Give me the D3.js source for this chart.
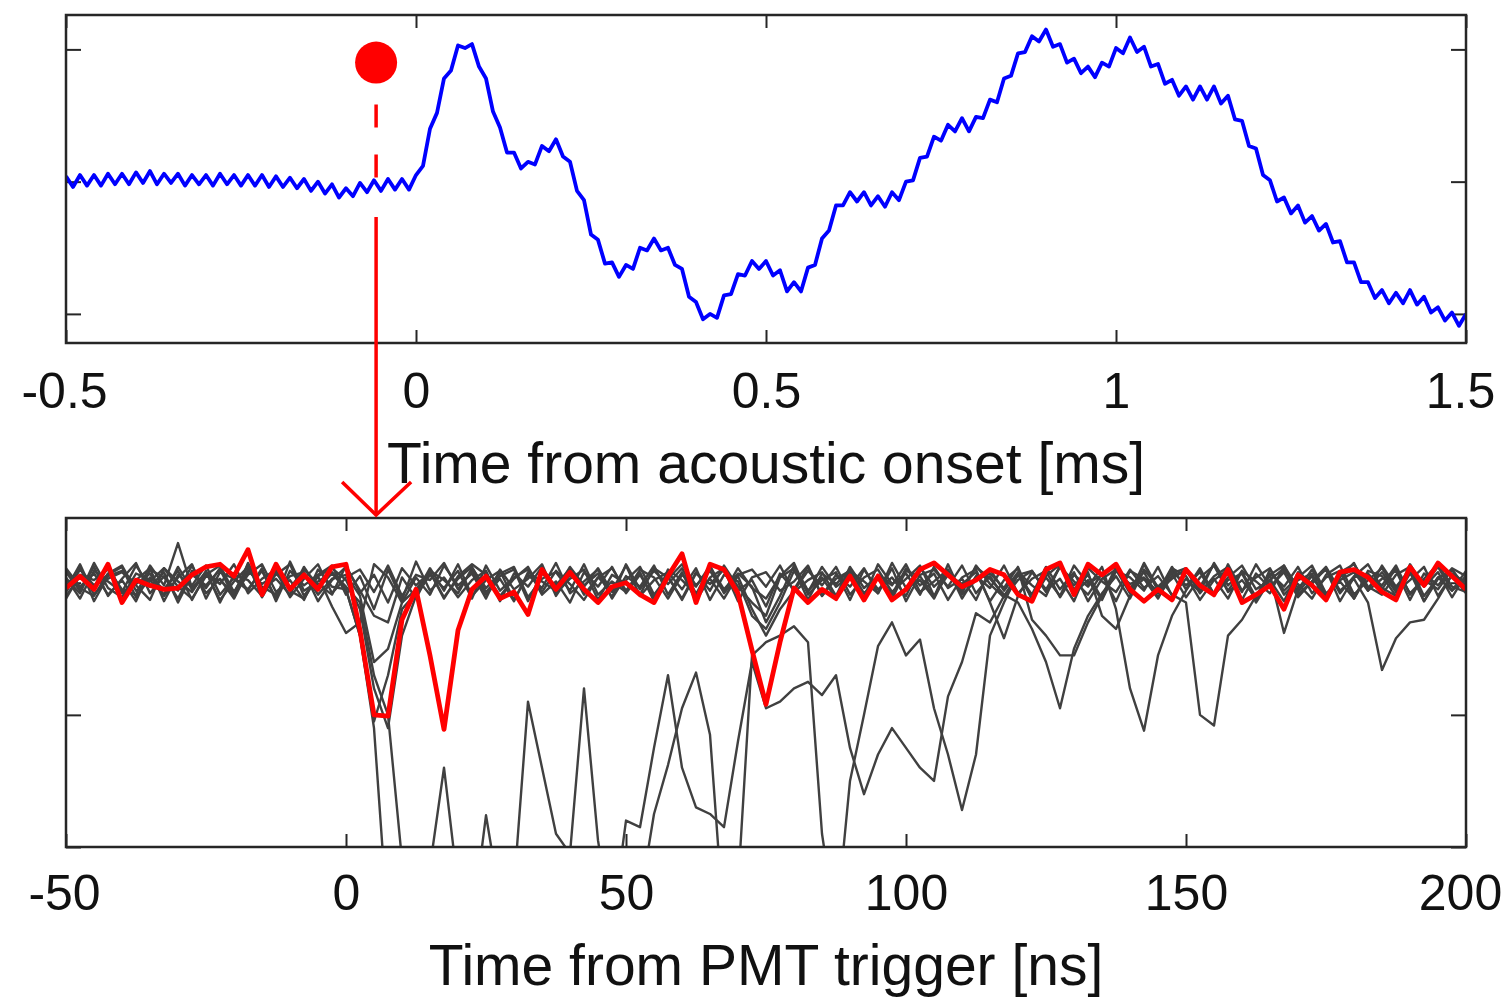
<!DOCTYPE html>
<html>
<head>
<meta charset="utf-8">
<script src="https://cdn.jsdelivr.net/npm/d3@7"></script>
<style>
html,body{margin:0;padding:0;background:#fff;}
svg{display:block;}
</style>
</head>
<body>
<svg id="chart" width="1506" height="998"></svg>
<script>
// ---------------- DATA ----------------
// Top panel: acoustic signal, sampled every 0.01 ms from -0.5 ms
const topStart = -0.5, topStep = 0.01;
const topValues = [
  4, -4, 5, -3, 5, -3, 6, -2, 6, -2,
  7, -1, 8, -2, 6, -1, 6, -3, 5, -2,
  5, -3, 6, -2, 5, -3, 5, -3, 5, -4,
  4, -4, 3, -5, 2, -7, 0, -9, -2, -12,
  -5, -11, -1, -8, 1, -7, 2, -6, 2, -6,
  5, 12, 40, 52, 78, 84, 103, 101, 104, 87,
  78, 53, 41, 22, 22, 10, 15, 13, 27, 23,
  32, 19, 15, -7, -14, -40, -44, -62, -61, -72,
  -63, -66, -50, -52, -43, -52, -50, -63, -66, -87,
  -91, -104, -100, -103, -86, -85, -70, -71, -60, -66,
  -60, -71, -67, -83, -76, -83, -65, -63, -43, -37,
  -18, -18, -8, -15, -8, -18, -11, -19, -8, -14,
  0, 1, 18, 19, 34, 31, 43, 38, 48, 38,
  49, 48, 62, 60, 78, 80, 97, 98, 110, 106,
  115, 102, 104, 90, 93, 82, 87, 79, 90, 87,
  101, 97, 109, 98, 102, 87, 89, 74, 77, 65,
  72, 62, 72, 62, 72, 59, 65, 47, 46, 27,
  25, 5, 1, -15, -12, -24, -18, -31, -26, -37,
  -32, -46, -45, -61, -61, -76, -76, -88, -82, -92,
  -84, -92, -82, -93, -87, -99, -95, -105, -99, -109,
  -100
];
const topTicks = [-0.5, 0, 0.5, 1, 1.5];
const topTickLabels = ["-0.5", "0", "0.5", "1", "1.5"];
const topYTicks = [-100, 0, 100];
const topYDomain = [-122, 126];
const topXLabel = "Time from acoustic onset [ms]";
const markerTime = -0.057;   // ms
const markerLevel = 90;

// Bottom panel: PMT traces, sampled every 2.5 ns from -50 ns
const botStart = -50, botStep = 2.5;
const redTrace = [
  -4, 5, -5, 14, -15, 2, -2, -5, -4, 6,
  12, 14, 5, 25, -9, 14, -5, 6, -5, 12,
  14, -36, -100, -101, -28, -5, -55, -111, -36, -5,
  5, -12, -7, -24, 10, -5, 8, -5, -15, -3,
  0, -9, -15, 5, 22, -15, 14, 10, -8, -51,
  -92, -45, -4, -15, -5, -12, 5, -13, 5, -13,
  -5, 10, 15, 6, -3, 2, 10, 6, -9, -14,
  10, 15, -9, 14, 6, 14, -5, -14, -5, -13,
  10, -2, -9, 10, -15, -9, -2, -20, 6, -2,
  -13, 8, 10, 4, -7, -13, 12, -2, 15, 5,
  -5
];
const grey1 = [
  8, -6, 12, -10, 3, 15, -8, 5, -12, 9,
  -4, 11, -9, 6, 14, -7, 2, -13, 10, -3,
  -5, -40, -110, -260, -260, -260, -215, -140, -230, -260,
  -176, -240, -230, -90, -140, -190, -205, -80, -195, -260,
  -180, -185, -125, -70, -140, -170, -175, -185, -120, -60,
  -95, -90, -80, -75, -85, -70, -125, -160, -130, -110,
  -125, -140, -150, -86, -60, -23, -30, -10, 6, -9,
  12, -5, 8, -14, 3, 10, -8, 15, -4, 7,
  -11, 4, 13, -6, 9, -15, 2, 11, -7, 5,
  -12, 8, 14, -3, -9, 6, 12, -10, 4, -6,
  9
];
const grey2 = [
  -10, 5, -3, 14, -8, 2, 11, -14, 6, -2,
  13, -9, 4, -5, 9, -12, 16, -6, 1, 8,
  -3, -15, -70, -100, -210, -260, -260, -260, -260, -260,
  -260, -260, -260, -260, -260, -260, -260, -260, -260, -260,
  -260, -240, -175, -138, -95, -68, -115, -260, -230, -55,
  -45, -40, -33, -45, -190, -260, -150, -100, -48, -30,
  -55, -43, -95, -130, -172, -130, -40, -15, 7, -12,
  5, 14, -8, 2, -13, 9, 4, -6, 12, -10,
  3, -7, 15, -2, 8, -11, 6, 13, -9, 1,
  10, -14, 4, 7, -5, 11, -8, 3, 14, -3,
  -7
];
const grey3 = [
  4, -12, 9, 1, -7, 13, -3, 8, -15, 6,
  -2, 10, -11, 15, -5, 3, -9, 12, -4, 7,
  -5, -40, -105, -70, -20, -8, 11, -6, 14, -10,
  2, 9, -13, 6, -4, 15, -8, 1, 10, -12,
  5, -3, 13, -9, 8, -14, 4, 11, -6, 2,
  -18, 7, -5, 12, -10, 3, 9, -13, 6, -2,
  14, -7, 1, 10, -12, 5, -4, 13, -8, 3,
  9, -11, 6, -3, 12, -20, -80, -112, -55, -25,
  -6, 10, -9, 4, 13, -5, 2, -14, 8, -1,
  11, -8, 5, 14, -4, -10, 7, -2, 12, -6,
  3
];
const grey4 = [
  -7, 10, -2, 6, 12, -11, 4, -5, 9, -13,
  7, -1, 14, -8, 3, 10, -6, -12, 5, 11,
  2, -20, -80, -110, -40, -10, 6, -4, 9, -12,
  13, -6, 4, 10, -9, 1, -15, 8, -3, 12,
  -8, 6, -11, 3, 14, -2, 9, -7, 11, -4,
  -12, 5, 15, -9, 2, 8, -13, 10, -5, 4,
  -10, 12, -3, 7, -8, 13, -1, -11, 6, 9,
  -6, 3, -14, 11, 1, -7, 10, -4, 5, -9,
  -15, -100, -108, -40, -28, -10, 7, -3, 12, -8,
  4, 9, -12, 6, -2, 13, -9, 2, -5, 10,
  -4
];
const grey5 = [
  11, -3, 7, -9, 2, -14, 10, 4, -6, 13,
  -8, 3, -12, 9, -1, 6, 14, -10, 5, -18,
  -38, -30, 14, 4, -15, -5, 8, -11, 3, 12,
  -7, 5, 10, -14, 7, -2, 11, -9, 4, -6,
  13, -10, 2, 8, -5, 11, -13, 6, 1, -25,
  -35, -15, 9, -7, 12, -3, 5, -11, 14, -1,
  7, -9, 12, -4, 3, -13, 10, -6, 8, -2,
  -10, 13, -5, 6, -12, 9, -1, 4, -8, 11,
  5, -13, 2, 10, -7, 14, -3, 8, -11, 1,
  12, -6, 3, -15, -66, -42, -30, -28, -12, 6,
  -8
];
const grey6 = [
  -5, 14, -9, 3, 8, -2, -13, 11, 1, -7,
  9, -15, 6, 2, -10, 13, -4, 7, -9, 3,
  6, -10, -60, -50, -15, 4, -9, 13, -2, 7,
  -12, 10, -5, 3, 14, -10, 6, -3, 11, -7,
  2, 12, -9, 5, -13, 7, -1, 10, -14, 4,
  8, -6, 1, 13, -10, 6, -3, 11, -8, 15,
  -4, 2, -12, 9, -6, 12, 3, -9, -15, -35,
  -60, -95, -50, -25, -8, 5, -12, 10, -3, 7,
  11, -6, 3, -12, 9, 1, -8, 13, -4, 6,
  -11, 2, 8, -6, 13, -3, 10, -14, 4, 7,
  -2
];
const grey7 = [
  3, -8, 15, -4, -11, 7, 2, -9, 12, -5,
  6, 13, -7, 10, -3, -9, 5, 8, -14, 2,
  12, -6, -25, -30, 4, -12, 9, 2, -8, 11,
  -4, 7, 12, -11, 3, 8, -6, 14, -9, 1,
  -7, 10, 4, -12, 6, -3, 13, -8, 5, -20,
  -40, -20, -6, 9, -2, 12, -9, 4, 10, -7,
  3, 13, -10, 6, -1, 8, -14, 2, 11, -28,
  -40, -55, -55, -30, -10, 12, -4, 8, -11, 5,
  9, -3, 14, -7, 2, -12, 6, -38, -5, 10,
  -9, 4, 15, -6, 3, 9, -13, 7, -2, 11,
  5
];
const grey8 = [
  -12, 6, 2, 10, -5, -9, 13, -2, 30, -4,
  8, -13, 1, 12, -6, 9, -11, 3, 14, -8,
  4, 10, -7, 13, -10, 6, 2, 15, -5, 9,
  -9, 3, -14, 8, 1, -6, 12, -2, 7, -11,
  14, -5, 9, -1, 11, -8, 3, -12, 6, 10,
  -3, 13, -7, 2, 8, -10, 12, -4, 5, -9,
  11, -2, 7, -13, 4, 10, -15, -42, -10, 8,
  -5, 12, 1, -9, 7, 13, -6, 3, -12, 9,
  -2, 8, -10, 14, -6, 4, 11, -9, 2, 7,
  -13, 5, 10, -4, 8, -7, 2, 12, -10, 6,
  1
];
const grey9 = [
  9, -4, -10, 7, 13, -6, 1, 11, -3, -12,
  5, 2, -8, 14, -11, 7, -4, 10, -1, -9,
  13, -8, 6, -15, 11, -2, 8, -12, 5, 14,
  6, -10, 3, 12, -7, 9, -1, -13, 4, 11,
  -6, 8, -14, 10, 2, -9, 12, -5, 7, -3,
  -30, -10, 13, -6, 4, -12, 9, 1, -8, 11,
  -14, 6, 10, -3, 13, -8, 5, -11, 2, 9,
  -7, 12, -2, 8, -25, -35, -10, 14, -6, 3,
  10, -8, 5, 12, -13, 7, -4, 9, -1, -12,
  6, 13, -9, 2, 11, -5, 8, -14, 3, 10,
  -6
];
const grey10 = [
  -3, 12, -14, 5, 9, -1, 7, -10, 4, 14,
  -12, 8, 3, -6, 11, -14, 9, -2, 6, 13,
  -9, 5, -20, 10, -13, 16, -6, 4, -11, 2,
  9, -14, 7, -3, 12, -8, 3, 10, -13, 6,
  -1, -9, 11, 4, -12, 8, -6, 13, -3, -15,
  -25, 4, 11, -13, 7, -1, 10, -8, 3, -12,
  9, 5, -11, 14, -9, 2, 7, -4, 12, -13,
  4, -10, 13, -1, 6, -14, 9, 3, -7, 12,
  -5, 11, -9, 2, 7, -13, 10, -6, 4, 13,
  -8, 1, -12, 9, 5, -10, 14, -3, 8, -11,
  6
];
const greyTraces = [grey1, grey2, grey3, grey4, grey5, grey6, grey7, grey8, grey9, grey10];
const botTicks = [-50, 0, 50, 100, 150, 200];
const botTickLabels = ["-50", "0", "50", "100", "150", "200"];
const botYTicks = [-200, -100, 0];
const botYDomain = [-200, 49];
const botXLabel = "Time from PMT trigger [ns]";

// ---------------- LAYOUT ----------------
const FONT = "'Liberation Sans', Arial, Helvetica, sans-serif";
const INK = "#262626";
const plotL = 66, plotR = 1466;
const topPanel = {t: 15, b: 343};
const botPanel = {t: 518, b: 847};

const svg = d3.select("#chart");
svg.append("rect").attr("width", 1506).attr("height", 998).attr("fill", "#fff");

const xTop = d3.scaleLinear().domain([topTicks[0], topTicks[topTicks.length - 1]]).range([plotL, plotR]);
const yTop = d3.scaleLinear().domain(topYDomain).range([topPanel.b, topPanel.t]);
const xBot = d3.scaleLinear().domain([botTicks[0], botTicks[botTicks.length - 1]]).range([plotL, plotR]);
const yBot = d3.scaleLinear().domain(botYDomain).range([botPanel.b, botPanel.t]);

function styleAxis(a) {
  a.select(".domain").remove();
  a.selectAll(".tick line").attr("stroke", INK).attr("stroke-width", 2);
  a.selectAll(".tick text")
    .attr("fill", "#111")
    .style("font-family", FONT)
    .style("font-size", "50px");
}

function panel(id, x, y, xTicks, xLabels, yTicks, pad) {
  const g = svg.append("g").attr("id", id);
  const [y0, y1] = y.range();
  const [x0, x1] = x.range();
  const bottomAxis = g.append("g").attr("transform", `translate(0,${y0})`)
    .call(d3.axisBottom(x).tickValues(xTicks)
      .tickFormat(d => xLabels[xTicks.indexOf(d)])
      .tickSize(-13).tickPadding(pad))
    .call(styleAxis);
  // keep edge labels inside the picture, as in the reference
  bottomAxis.selectAll(".tick text")
    .attr("dx", (d, i) => i === xTicks.length - 1 ? -6 : (i === 0 ? -2 : 0));
  g.append("g").attr("transform", `translate(0,${y1})`)
    .call(d3.axisTop(x).tickValues(xTicks).tickFormat("").tickSize(-13))
    .call(styleAxis);
  g.append("g").attr("transform", `translate(${x0},0)`)
    .call(d3.axisLeft(y).tickValues(yTicks).tickFormat("").tickSize(-15))
    .call(styleAxis);
  g.append("g").attr("transform", `translate(${x1},0)`)
    .call(d3.axisRight(y).tickValues(yTicks).tickFormat("").tickSize(-15))
    .call(styleAxis);
  g.append("clipPath").attr("id", id + "-clip")
    .append("rect").attr("x", x0).attr("y", y1).attr("width", x1 - x0).attr("height", y0 - y1);
  const data = g.append("g").attr("clip-path", `url(#${id}-clip)`);
  g.append("rect").attr("x", x0).attr("y", y1).attr("width", x1 - x0).attr("height", y0 - y1)
    .attr("fill", "none").attr("stroke", INK).attr("stroke-width", 2.5);
  return data;
}

// ---------- Top panel ----------
const topData = panel("top", xTop, yTop, topTicks, topTickLabels, topYTicks, 29);
const lineTop = d3.line()
  .x((d, i) => xTop(topStart + i * topStep))
  .y(d => yTop(d));
topData.append("path").datum(topValues)
  .attr("d", lineTop).attr("fill", "none")
  .attr("stroke", "#0000ff").attr("stroke-width", 3.8)
  .attr("stroke-linejoin", "round");

svg.append("text").attr("x", (plotL + plotR) / 2).attr("y", 483)
  .attr("text-anchor", "middle").attr("fill", "#111")
  .style("font-family", FONT).style("font-size", "57px")
  .text(topXLabel);

// ---------- Bottom panel ----------
const botData = panel("bot", xBot, yBot, botTicks, botTickLabels, botYTicks, 27);
const lineBot = d3.line()
  .x((d, i) => xBot(botStart + i * botStep))
  .y(d => yBot(d));
botData.selectAll("path.grey").data(greyTraces).join("path")
  .attr("class", "grey")
  .attr("d", lineBot).attr("fill", "none")
  .attr("stroke", "#404040").attr("stroke-width", 2.4)
  .attr("stroke-linejoin", "round");
botData.append("path").datum(redTrace)
  .attr("d", lineBot).attr("fill", "none")
  .attr("stroke", "#ff0000").attr("stroke-width", 4.8)
  .attr("stroke-linejoin", "round");

svg.append("text").attr("x", (plotL + plotR) / 2).attr("y", 985)
  .attr("text-anchor", "middle").attr("fill", "#111")
  .style("font-family", FONT).style("font-size", "57px")
  .text(botXLabel);

// ---------- Marker and arrow ----------
const mx = xTop(markerTime), my = yTop(markerLevel);
const ann = svg.append("g");
ann.append("circle").attr("cx", mx).attr("cy", my).attr("r", 21).attr("fill", "#ff0000");
ann.append("line").attr("x1", mx).attr("x2", mx).attr("y1", my + 42).attr("y2", 200)
  .attr("stroke", "#ff0000").attr("stroke-width", 3.5).attr("stroke-dasharray", "23,27");
const tipY = botPanel.t - 3;
ann.append("line").attr("x1", mx).attr("x2", mx).attr("y1", 217).attr("y2", tipY)
  .attr("stroke", "#ff0000").attr("stroke-width", 3.5);
ann.append("path")
  .attr("d", `M${mx - 34},${tipY - 33} L${mx},${tipY} L${mx + 35},${tipY - 33}`)
  .attr("fill", "none").attr("stroke", "#ff0000").attr("stroke-width", 3.5);
</script>
</body>
</html>
